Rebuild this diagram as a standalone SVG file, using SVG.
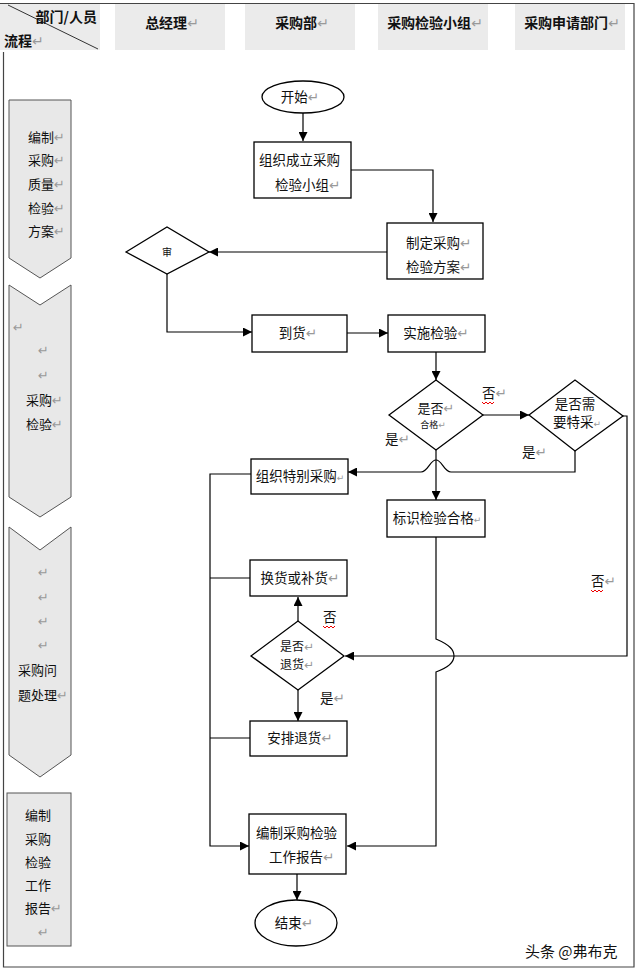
<svg xmlns="http://www.w3.org/2000/svg" width="640" height="972" viewBox="0 0 640 972">
<style>
text{font-family:"Noto Sans CJK SC","DejaVu Sans",sans-serif;fill:#111}
.t{font-size:13.5px}
.h{font-size:14px;font-weight:bold}
.l{font-size:13px}
.r{fill:#999;font-weight:normal}
.box{fill:#fff;stroke:#000;stroke-width:1.3}
.hd{fill:#ebebeb}
.lane{fill:#e8e8e8;stroke:#555;stroke-width:1}
.c{fill:none;stroke:#000;stroke-width:1.2}
.frame{fill:none;stroke:#444;stroke-width:1.2}
.sq{fill:none;stroke:#e00;stroke-width:1}
</style>
<defs>
<marker id="a" viewBox="0 0 10 10" refX="10" refY="5" markerWidth="10" markerHeight="9" markerUnits="userSpaceOnUse" orient="auto"><path d="M0,0 L10,5 L0,10 z" fill="#000"/></marker>
</defs>
<rect width="640" height="972" fill="#fff"/>
<g id="frame">
<path class="frame" d="M0,3.5 H634 V967 H3.5 V52"/>
</g>
<g id="header">
<rect class="hd" x="0" y="4" width="100" height="46"/>
<line x1="8" y1="5" x2="98" y2="49" stroke="#333" stroke-width="1"/>
<text class="h" x="97" y="22" text-anchor="end">部门/人员</text>
<text class="h" x="4" y="46">流程<tspan class="r">↵</tspan></text>
<rect class="hd" x="115" y="4" width="110" height="46"/>
<text class="h" x="172" y="28" text-anchor="middle">总经理<tspan class="r">↵</tspan></text>
<rect class="hd" x="245" y="4" width="110" height="46"/>
<text class="h" x="302" y="28" text-anchor="middle">采购部<tspan class="r">↵</tspan></text>
<rect class="hd" x="378" y="4" width="110" height="46"/>
<text class="h" x="435" y="28" text-anchor="middle">采购检验小组<tspan class="r">↵</tspan></text>
<rect class="hd" x="515" y="4" width="110" height="46"/>
<text class="h" x="572" y="28" text-anchor="middle">采购申请部门<tspan class="r">↵</tspan></text>
</g>
<g id="lane1">
<path class="lane" d="M9,100 H71 V258 L40,278 L9,258 Z"/>
<text class="l" x="28" y="142">编制<tspan class="r">↵</tspan></text>
<text class="l" x="28" y="165">采购<tspan class="r">↵</tspan></text>
<text class="l" x="28" y="189">质量<tspan class="r">↵</tspan></text>
<text class="l" x="28" y="213">检验<tspan class="r">↵</tspan></text>
<text class="l" x="28" y="236">方案<tspan class="r">↵</tspan></text>
</g>
<g id="lane2">
<path class="lane" d="M9,285 L40,305 L71,285 V497 L40,517 L9,497 Z"/>
<text class="l r" x="13" y="332">↵</text>
<text class="l r" x="38" y="355">↵</text>
<text class="l r" x="38" y="380">↵</text>
<text class="l" x="26" y="405">采购<tspan class="r">↵</tspan></text>
<text class="l" x="26" y="429">检验<tspan class="r">↵</tspan></text>
</g>
<g id="lane3">
<path class="lane" d="M9,527 L40,550 L71,527 V755 L40,777 L9,755 Z"/>
<text class="l r" x="38" y="577">↵</text>
<text class="l r" x="38" y="602">↵</text>
<text class="l r" x="38" y="626">↵</text>
<text class="l r" x="38" y="650">↵</text>
<text class="l" x="18" y="675">采购问</text>
<text class="l" x="18" y="700">题处理<tspan class="r">↵</tspan></text>
</g>
<g id="lane4">
<rect class="lane" x="7" y="793" width="64" height="153"/>
<text class="l" x="25" y="820">编制</text>
<text class="l" x="25" y="844">采购</text>
<text class="l" x="25" y="867">检验</text>
<text class="l" x="25" y="890">工作</text>
<text class="l" x="25" y="913">报告<tspan class="r">↵</tspan></text>
<text class="l r" x="38" y="937">↵</text>
</g>
<g id="connectors">
<path class="c" d="M303,113 V141" marker-end="url(#a)"/>
<path class="c" d="M351,170 H433 V222" marker-end="url(#a)"/>
<path class="c" d="M387,252 H209" marker-end="url(#a)"/>
<path class="c" d="M167,274 V332 H252" marker-end="url(#a)"/>
<path class="c" d="M347,333 H388" marker-end="url(#a)"/>
<path class="c" d="M436,352 V380" marker-end="url(#a)"/>
<path class="c" d="M483,415 H529" marker-end="url(#a)"/>
<path class="c" d="M436,450 V500" marker-end="url(#a)"/>
<path class="c" d="M575,451 V472 H451 C444,472 442,460 436,460 C430,460 428,472 421,472 H348" marker-end="url(#a)"/>
<path class="c" d="M623,416 H627 V656 H345" marker-end="url(#a)"/>
<path class="c" d="M436,537 V639 C450,645 454,650 454,656 C454,662 450,667 436,672 V846 H347" marker-end="url(#a)"/>
<path class="c" d="M251,474 H210 V846 H249" marker-end="url(#a)"/>
<path class="c" d="M250,578 H210"/>
<path class="c" d="M250,738 H210"/>
<path class="c" d="M298,621 V597" marker-end="url(#a)"/>
<path class="c" d="M298,690 V721" marker-end="url(#a)"/>
<path class="c" d="M297,874 V900" marker-end="url(#a)"/>
<text class="t" x="482" y="398">否<tspan class="r">↵</tspan></text>
<path class="sq" d="M482,402 l2,2 l2,-2 l2,2 l2,-2 l2,2 l2,-2"/>
<text class="t" x="385" y="444">是<tspan class="r">↵</tspan></text>
<text class="t" x="522" y="457">是<tspan class="r">↵</tspan></text>
<text class="t" x="591" y="586">否<tspan class="r">↵</tspan></text>
<path class="sq" d="M591,590 l2,2 l2,-2 l2,2 l2,-2 l2,2 l2,-2"/>
<text class="t" x="323" y="622">否</text>
<path class="sq" d="M323,626 l2,2 l2,-2 l2,2 l2,-2 l2,2 l2,-2"/>
<text class="t" x="320" y="703">是<tspan class="r">↵</tspan></text>
</g>
<g id="start">
<ellipse class="box" cx="303" cy="97" rx="41" ry="16"/>
<text class="t" x="300" y="102" text-anchor="middle">开始<tspan class="r">↵</tspan></text>
</g>
<g id="form-team">
<rect class="box" x="254" y="142" width="97" height="56"/>
<text class="t" x="259" y="165">组织成立采购</text>
<text class="t" x="275" y="190">检验小组<tspan class="r">↵</tspan></text>
</g>
<g id="make-plan">
<rect class="box" x="387" y="223" width="96" height="56"/>
<text class="t" x="406" y="248">制定采购<tspan class="r">↵</tspan></text>
<text class="t" x="406" y="272">检验方案<tspan class="r">↵</tspan></text>
</g>
<g id="approve">
<polygon class="box" points="126,252 167,227 209,252 167,274"/>
<text x="167" y="256" text-anchor="middle" font-size="10">审</text>
</g>
<g id="arrival">
<rect class="box" x="252" y="315" width="95" height="37"/>
<text class="t" x="298" y="338" text-anchor="middle">到货<tspan class="r">↵</tspan></text>
</g>
<g id="inspect">
<rect class="box" x="388" y="315" width="97" height="37"/>
<text class="t" x="436" y="338" text-anchor="middle">实施检验<tspan class="r">↵</tspan></text>
</g>
<g id="qualified">
<polygon class="box" points="389,415 436,380 483,415 436,450"/>
<text x="436" y="413" text-anchor="middle" font-size="13">是否<tspan class="r">↵</tspan></text>
<text x="433" y="428" text-anchor="middle" font-size="9">合格<tspan class="r">↵</tspan></text>
</g>
<g id="special">
<polygon class="box" points="529,415 575,380 623,416 575,451"/>
<text class="t" x="575" y="409" text-anchor="middle">是否需</text>
<text class="t" x="577" y="427" text-anchor="middle">要特采<tspan class="r" font-size="9">↵</tspan></text>
</g>
<g id="special-buy">
<rect class="box" x="251" y="459" width="97" height="35"/>
<text class="t" x="300" y="481" text-anchor="middle">组织特别采购<tspan class="r" font-size="9">↵</tspan></text>
</g>
<g id="mark-ok">
<rect class="box" x="387" y="500" width="98" height="37"/>
<text class="t" x="437" y="523" text-anchor="middle">标识检验合格<tspan class="r" font-size="9">↵</tspan></text>
</g>
<g id="exchange">
<rect class="box" x="250" y="560" width="97" height="36"/>
<text class="t" x="300" y="583" text-anchor="middle">换货或补货<tspan class="r">↵</tspan></text>
</g>
<g id="return-q">
<polygon class="box" points="251,656 298,621 344,656 298,690"/>
<text x="297" y="651" text-anchor="middle" font-size="12">是否<tspan class="r">↵</tspan></text>
<text x="297" y="669" text-anchor="middle" font-size="12">退货<tspan class="r">↵</tspan></text>
</g>
<g id="return">
<rect class="box" x="250" y="721" width="97" height="35"/>
<text class="t" x="300" y="743" text-anchor="middle">安排退货<tspan class="r">↵</tspan></text>
</g>
<g id="report">
<rect class="box" x="249" y="814" width="97" height="60"/>
<text class="t" x="256" y="838">编制采购检验</text>
<text class="t" x="269" y="862">工作报告<tspan class="r">↵</tspan></text>
</g>
<g id="end">
<ellipse class="box" cx="296" cy="923" rx="41" ry="23"/>
<text class="t" x="294" y="928" text-anchor="middle">结束<tspan class="r">↵</tspan></text>
</g>
<text x="525" y="957" font-size="15" fill="#333">头条 @弗布克</text>
</svg>
